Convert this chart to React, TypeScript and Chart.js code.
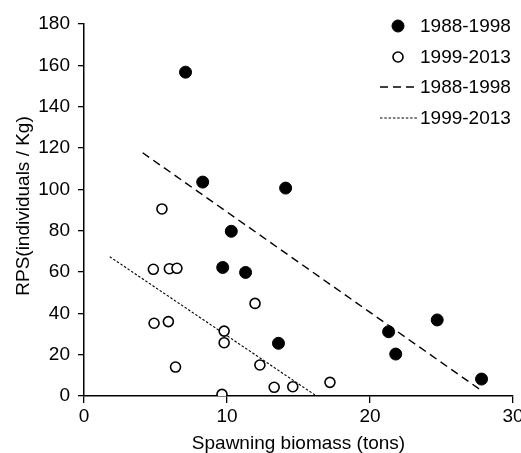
import React, { useEffect, useRef } from "react";
import { Chart, registerables } from "chart.js";

Chart.register(...registerables);

// 1988-1998 observations (spawning biomass in tons, RPS in individuals / Kg)
const earlyBiomass = [7.1, 8.3, 10.3, 9.7, 11.3, 13.6, 14.1, 21.3, 21.8, 24.7, 27.8];
const earlyRps = [156.7, 103.5, 79.7, 62.2, 59.8, 25.5, 100.6, 31.1, 20.3, 36.8, 8.2];

// 1999-2013 observations
const lateBiomass = [5.45, 4.85, 5.97, 6.5, 4.9, 5.9, 6.4, 11.96, 9.8, 9.8, 12.3, 13.3, 14.6, 17.2, 9.65];
const lateRps = [90.5, 61.3, 61.6, 61.8, 35.2, 36.0, 14.0, 44.8, 31.4, 25.8, 15.0, 4.2, 4.5, 6.6, 0.8];

// regression line end points
const earlyFitBiomass = [4.1, 27.8];
const earlyFitRps = [117.7, 2.6];
const lateFitBiomass = [1.8, 16.15];
const lateFitRps = [67.4, 0.5];

const seriesLabels = ["1988-1998", "1999-2013", "1988-1998", "1999-2013"];
const xTitle = "Spawning biomass (tons)";
const yTitle = "RPS(individuals / Kg)";

const FONT = "'Liberation Sans', Arial, sans-serif";
const FS = 19;

const toPoints = (xs: number[], ys: number[]) => xs.map((x, i) => ({ x, y: ys[i] }));

const legendPlugin = {
  id: "customLegend",
  afterDraw(chart: any) {
    const ctx = chart.ctx;
    const ds = chart.data.datasets;
    ctx.save();
    ctx.font = `${FS}px ${FONT}`;
    ctx.textBaseline = "middle";
    ctx.textAlign = "left";
    ctx.fillStyle = "#000";
    const rows = [26, 57, 87, 118];
    const textX = 420;
    ds.forEach((d: any, i: number) => {
      const y = rows[i];
      if (d.showLine) {
        ctx.beginPath();
        ctx.setLineDash(d.borderDash || []);
        ctx.lineWidth = d.borderWidth;
        ctx.strokeStyle = "#000";
        ctx.moveTo(380, y);
        ctx.lineTo(418, y);
        ctx.stroke();
        ctx.setLineDash([]);
      } else {
        ctx.beginPath();
        ctx.arc(398, y, d.pointRadius, 0, Math.PI * 2);
        ctx.fillStyle = d.pointBackgroundColor;
        ctx.fill();
        ctx.lineWidth = d.pointBorderWidth;
        ctx.strokeStyle = "#000";
        ctx.stroke();
        ctx.fillStyle = "#000";
      }
      ctx.fillText(d.label, textX, y + 1);
    });
    // y-axis title
    ctx.translate(29, 206);
    ctx.rotate(-Math.PI / 2);
    ctx.textAlign = "center";
    ctx.textBaseline = "alphabetic";
    ctx.fillText(yTitle, 0, 0);
    ctx.restore();
  },
};

export default function App() {
  const ref = useRef<HTMLCanvasElement | null>(null);
  useEffect(() => {
    if (!ref.current) return;
    const chart = new Chart(ref.current, {
      type: "scatter",
      data: {
        datasets: [
          {
            label: seriesLabels[0],
            data: toPoints(earlyBiomass, earlyRps),
            pointRadius: 6,
            pointBackgroundColor: "#000",
            pointBorderColor: "#000",
            pointBorderWidth: 1,
            showLine: false,
          },
          {
            label: seriesLabels[1],
            data: toPoints(lateBiomass, lateRps),
            pointRadius: 5,
            pointBackgroundColor: "#fff",
            pointBorderColor: "#000",
            pointBorderWidth: 1.6,
            showLine: false,
          },
          {
            label: seriesLabels[2],
            data: toPoints(earlyFitBiomass, earlyFitRps),
            showLine: true,
            borderColor: "#000",
            borderWidth: 1.4,
            borderDash: [8, 5],
            pointRadius: 0,
          },
          {
            label: seriesLabels[3],
            data: toPoints(lateFitBiomass, lateFitRps),
            showLine: true,
            borderColor: "#000",
            borderWidth: 1.1,
            borderDash: [2.5, 1.8],
            pointRadius: 0,
          },
        ] as any,
      },
      options: {
        animation: false,
        responsive: false,
        layout: { padding: { top: 24, right: 8, left: 0, bottom: 0 } },
        plugins: { legend: { display: false }, tooltip: { enabled: false } },
        scales: {
          x: {
            type: "linear",
            min: 0,
            max: 30,
            ticks: { stepSize: 10, color: "#000", font: { family: FONT, size: FS }, padding: 2, maxRotation: 0 },
            grid: { display: true, drawOnChartArea: false, drawTicks: true, tickLength: 7, color: "#000", lineWidth: 1.3 },
            border: { display: true, color: "#000", width: 1.5 },
            title: { display: true, text: xTitle, color: "#000", font: { family: FONT, size: FS, lineHeight: 1 }, padding: { top: 0, bottom: 0 } },
            afterFit: (s: any) => {
              s.height = 57;
              s.paddingLeft = 0;
              s.paddingRight = 0;
            },
          },
          y: {
            type: "linear",
            min: 0,
            max: 180,
            ticks: { stepSize: 20, color: "#000", font: { family: FONT, size: FS }, padding: 8 },
            grid: { display: true, drawOnChartArea: false, drawTicks: true, tickLength: 6, color: "#000", lineWidth: 1.3 },
            border: { display: true, color: "#000", width: 1.5 },
            afterFit: (s: any) => {
              s.width = 84;
              s.paddingTop = 0;
              s.paddingBottom = 0;
            },
          },
        },
      } as any,
      plugins: [legendPlugin],
    });
    return () => chart.destroy();
  }, []);
  return (
    <div style={{ position: "fixed", left: 0, top: 0, width: 521, height: 453, background: "#fff" }}>
      <canvas ref={ref} width={521} height={453} style={{ width: 521, height: 453, display: "block" }} />
    </div>
  );
}
